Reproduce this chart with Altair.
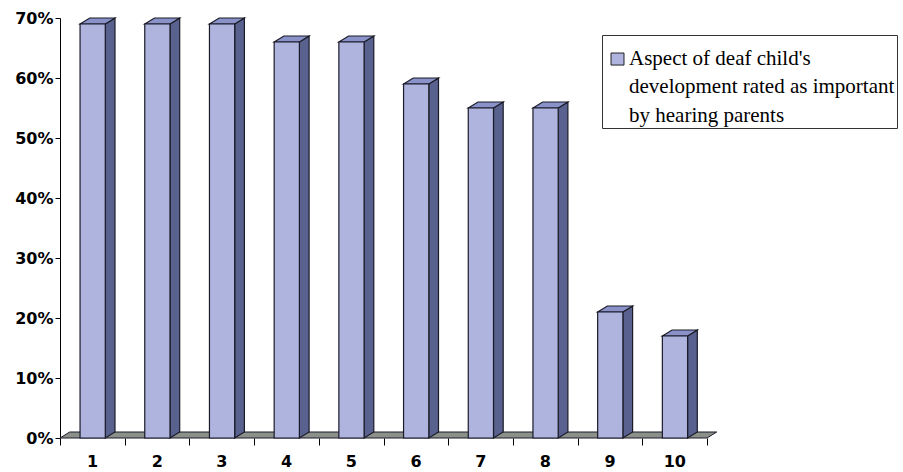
import json

import altair as alt
import pandas as pd

# ---- data -------------------------------------------------------------
categories = ["1", "2", "3", "4", "5", "6", "7", "8", "9", "10"]
values = [69, 69, 69, 66, 66, 59, 55, 55, 21, 17]
legend_lines = [
    "Aspect of deaf child's",
    "development rated as important",
    "by hearing parents",
]
y_ticks = [0, 10, 20, 30, 40, 50, 60, 70]

# ---- pseudo-3D geometry (data units) ----------------------------------
FACE_LEFT = 0.31   # front face start inside its slot
FACE_RIGHT = 0.70  # front face end inside its slot
DEPTH_X = 0.15     # receding depth along x
DEPTH_Y = 1.0      # receding depth along y (percentage points)

FRONT_COLOR = "#aeb4de"
SIDE_COLOR = "#59628f"
TOP_COLOR = "#8a93c9"
FLOOR_COLOR = "#8b908b"
EDGE_COLOR = "#1b1b28"

AXIS_FONT = "DejaVu Sans"

# legend swatch: a unit square drawn below the entry's centre line so that it
# sits beside the first line of the wrapped label
SWATCH_PATH = "M-1,0.85L1,0.85L1,2.7L-1,2.7Z"

n = len(categories)
series = "|".join(legend_lines)

front_rows, side_rows, top_rows = [], [], []
for i, (cat, v) in enumerate(zip(categories, values)):
    x0, x1 = i + FACE_LEFT, i + FACE_RIGHT
    front_rows.append({"cat": cat, "x0": x0, "x1": x1, "v": v, "series": series})
    side_rows += [
        {"cat": cat, "x": x1, "y": v, "y2": 0},
        {"cat": cat, "x": x1 + DEPTH_X, "y": v + DEPTH_Y, "y2": DEPTH_Y},
    ]
    top_rows += [
        {"cat": cat, "x": x0, "y": v, "y2": v},
        {"cat": cat, "x": x0 + DEPTH_X, "y": v + DEPTH_Y, "y2": v},
        {"cat": cat, "x": x1, "y": v + DEPTH_Y, "y2": v},
        {"cat": cat, "x": x1 + DEPTH_X, "y": v + DEPTH_Y, "y2": v + DEPTH_Y},
    ]

floor_rows = [
    {"x": 0, "y": 0, "y2": 0},
    {"x": DEPTH_X, "y": DEPTH_Y, "y2": 0},
    {"x": n, "y": DEPTH_Y, "y2": 0},
    {"x": n + DEPTH_X, "y": DEPTH_Y, "y2": DEPTH_Y},
]

front_df = pd.DataFrame(front_rows)
side_df = pd.DataFrame(side_rows)
top_df = pd.DataFrame(top_rows)
floor_df = pd.DataFrame(floor_rows)

# ---- scales & axes ----------------------------------------------------
x_scale = alt.Scale(domain=[0, n], nice=False, zero=False)
y_scale = alt.Scale(domain=[0, 70], nice=False)

x_axis = alt.Axis(
    values=list(range(n + 1)),
    labelExpr=f"datum.value < {n} ? {json.dumps(categories)}[datum.value] : ''",
    labelOffset=32,
    labelFlush=False,
    labelOverlap=False,
    labelFont=AXIS_FONT,
    labelFontWeight="bold",
    labelFontSize=16,
    labelColor="black",
    labelPadding=8,
    tickSize=7,
    tickColor="black",
    domain=False,
    grid=False,
    title=None,
)
y_axis = alt.Axis(
    values=y_ticks,
    labelExpr="datum.value + '%'",
    labelFont=AXIS_FONT,
    labelFontWeight="bold",
    labelFontSize=16,
    labelColor="black",
    labelPadding=2,
    tickSize=5,
    tickColor="black",
    domainColor="black",
    grid=False,
    title=None,
)

X = lambda f: alt.X(f, type="quantitative", scale=x_scale, axis=x_axis)
Y = lambda f: alt.Y(f, type="quantitative", scale=y_scale, axis=y_axis)

floor = alt.Chart(floor_df).mark_area(
    orient="vertical", fill=FLOOR_COLOR, stroke=EDGE_COLOR, strokeWidth=1,
    opacity=1, clip=False,
).encode(x=X("x"), y=Y("y"), y2="y2")

front = alt.Chart(front_df).mark_rect(
    stroke=EDGE_COLOR, strokeWidth=1.2, opacity=1,
).encode(
    x=X("x0"),
    x2="x1",
    y=Y("v"),
    y2=alt.datum(0),
    color=alt.Color(
        "series:N",
        scale=alt.Scale(range=[FRONT_COLOR]),
        legend=alt.Legend(
            title=None,
            orient="none",
            legendX=542,
            legendY=17,
            strokeColor="#333333",
            fillColor="white",
            padding=2,
            labelFont="Liberation Serif",
            labelFontSize=21,
            labelColor="black",
            labelLimit=600,
            labelExpr="split(datum.label, '|')",
            labelBaseline="top",
            labelOffset=1,
            symbolType=SWATCH_PATH,
            symbolSize=169,
            symbolOffset=3,
            symbolStrokeColor="#222222",
            symbolStrokeWidth=1,
            symbolOpacity=1,
        ),
    ),
)

side = alt.Chart(side_df).mark_area(
    orient="vertical", fill=SIDE_COLOR, stroke=EDGE_COLOR, strokeWidth=1.2,
    opacity=1, clip=False,
).encode(x=X("x"), y=Y("y"), y2="y2", detail="cat:N")

top = alt.Chart(top_df).mark_area(
    orient="vertical", fill=TOP_COLOR, stroke=EDGE_COLOR, strokeWidth=1.2,
    opacity=1, clip=False,
).encode(x=X("x"), y=Y("y"), y2="y2", detail="cat:N")

chart = (
    alt.layer(floor, side, top, front)
    .properties(
        width=647,
        height=420,
        autosize=alt.AutoSizeParams(type="none"),
        padding={"left": 60, "top": 18, "right": 196, "bottom": 34},
        background="white",
    )
    .configure(style={"guide-label": {"lineHeight": 28.5}})
    .configure_view(stroke=None)
)

chart.save("out.html", embed_options={"renderer": "svg", "actions": False})
